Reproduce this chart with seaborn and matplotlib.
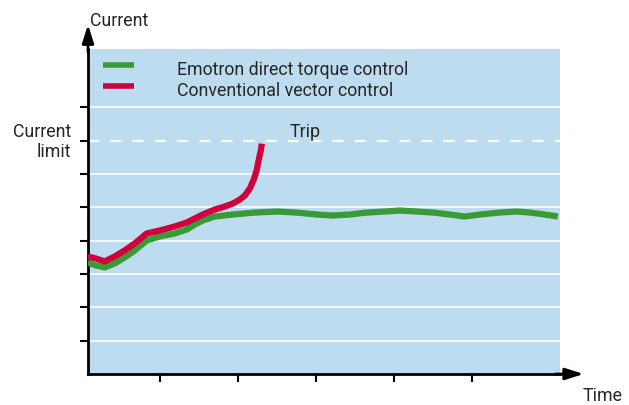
import numpy as np
import pandas as pd
import matplotlib
matplotlib.use("Agg")
import matplotlib.pyplot as plt
import seaborn as sns

# Datos (unidades arbitrarias de tiempo / corriente)
time_dtc = [0.077, 0.179, 0.295, 0.423, 0.551, 0.679, 0.833, 1.0, 1.192, 1.346,
            1.449, 1.551, 1.705, 1.936, 2.218, 2.5, 2.756, 3.013, 3.218, 3.436,
            3.654, 3.885, 4.077, 4.295, 4.5, 4.718, 4.910, 5.103, 5.359, 5.577,
            5.744, 5.936, 6.103]
current_dtc = [3.347, 3.257, 3.198, 3.317, 3.497, 3.707, 4.006, 4.126, 4.216, 4.335,
               4.485, 4.605, 4.725, 4.784, 4.844, 4.874, 4.844, 4.784, 4.754, 4.784,
               4.844, 4.874, 4.904, 4.874, 4.844, 4.784, 4.725, 4.784, 4.844, 4.874,
               4.844, 4.784, 4.725]

time_vector = [0.077, 0.179, 0.295, 0.423, 0.551, 0.679, 0.833, 1.0, 1.192, 1.346,
               1.449, 1.551, 1.705, 1.833, 1.936, 2.026, 2.090, 2.154, 2.205, 2.244,
               2.269, 2.295, 2.308]
current_vector = [3.527, 3.467, 3.377, 3.527, 3.707, 3.916, 4.216, 4.305, 4.425, 4.545,
                  4.665, 4.784, 4.934, 5.024, 5.114, 5.234, 5.353, 5.563, 5.832, 6.132,
                  6.431, 6.701, 6.910]

time_ticks = [1, 2, 3, 4, 5]
current_ticks = [1, 2, 3, 4, 5, 6, 7, 8]
current_limit = 7

legend_labels = ["Emotron direct torque control", "Conventional vector control"]

BLUE = "#bddcf0"
GREEN = "#389b35"
RED = "#d0003c"

sns.set_style("white")
plt.rcParams["font.family"] = ["Roboto", "DejaVu Sans"]

df = pd.concat([
    pd.DataFrame({"time": time_dtc, "current": current_dtc, "serie": legend_labels[0]}),
    pd.DataFrame({"time": time_vector, "current": current_vector, "serie": legend_labels[1]}),
])

fig = plt.figure(figsize=(6.29, 4.05), dpi=100)
ax = fig.add_axes([88 / 629, 31 / 405, 472 / 629, 325 / 405])
ax.set_facecolor(BLUE)

# Rejilla blanca
for c in current_ticks:
    if c == current_limit:
        ax.axhline(c, color="white", lw=1.6, ls=(0, (5, 5)), zorder=1)
    else:
        ax.axhline(c, color="white", lw=1.2, zorder=1)

sns.lineplot(data=df, x="time", y="current", hue="serie",
             palette={legend_labels[0]: GREEN, legend_labels[1]: RED},
             hue_order=legend_labels, linewidth=4.5, legend=False, ax=ax,
             sort=False, estimator=None, zorder=3)
for line in ax.lines:
    line.set_solid_capstyle("butt")
    line.set_solid_joinstyle("round")

ax.set_xlim(0.08, 6.13)
ax.set_ylim(0, 9.75)
ax.set_xticks(time_ticks)
ax.set_yticks(current_ticks)
ax.set_xticklabels([])
ax.set_yticklabels([])
ax.set_xlabel("")
ax.set_ylabel("")
ax.tick_params(axis="both", direction="out", length=6, width=1.5, color="black",
               left=True, bottom=True)
for s in ["top", "right"]:
    ax.spines[s].set_visible(False)
for s in ["left", "bottom"]:
    ax.spines[s].set_color("black")
    ax.spines[s].set_linewidth(2)

# Flechas de los ejes
ax.annotate("", xy=(0, 1.075), xytext=(0, 0.99), xycoords="axes fraction",
            arrowprops=dict(arrowstyle="-|>,head_length=1.1,head_width=0.35",
                            color="black", lw=2, shrinkA=0, shrinkB=0),
            annotation_clip=False)
ax.annotate("", xy=(1.05, 0), xytext=(0.99, 0), xycoords="axes fraction",
            arrowprops=dict(arrowstyle="-|>,head_length=1.1,head_width=0.35",
                            color="black", lw=2, shrinkA=0, shrinkB=0),
            annotation_clip=False)

fs = 12.8
fig.text(90 / 629, 1 - 26 / 405, "Current", fontsize=fs, va="baseline", ha="left")
fig.text(583 / 629, 1 - 401 / 405, "Time", fontsize=fs, va="baseline", ha="left")
ax.text(-0.036, current_limit - 0.05, "Current\nlimit", transform=ax.get_yaxis_transform(),
        fontsize=fs, ha="right", va="center", linespacing=1.15)
ax.text(2.66, current_limit + 0.27, "Trip", fontsize=fs, ha="left", va="center")

# Leyenda manual
leg_y = [9.27, 8.64]
for lab, col, y in zip(legend_labels, [GREEN, RED], leg_y):
    ax.plot([0.27, 0.67], [y, y], color=col, lw=4, solid_capstyle="butt")
    ax.text(1.22, y - 0.15, lab, fontsize=fs, ha="left", va="center")

fig.savefig("out.png", dpi=100)
